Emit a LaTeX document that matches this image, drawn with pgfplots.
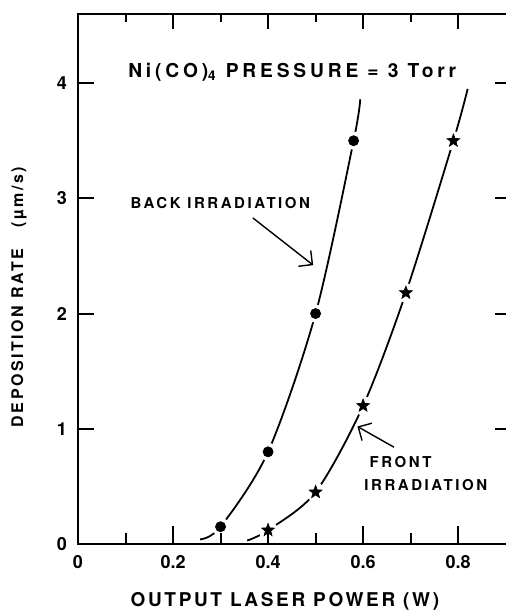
\documentclass[border=0pt]{standalone}
\usepackage{pgfplots}
\pgfplotsset{compat=1.18}
\usetikzlibrary{arrows.meta}
\usepackage{fontspec}
\setmainfont{TeX Gyre Heros}
\newfontfamily\spaced[LetterSpace=17]{TeX Gyre Heros}
\newfontfamily\spacedt[LetterSpace=20]{TeX Gyre Heros}
\newfontfamily\spacedx[LetterSpace=14]{TeX Gyre Heros}
\newfontfamily\spacedy[LetterSpace=16]{TeX Gyre Heros}
\pgfdeclareplotmark{fstar}{%
  \pgfpathmoveto{\pgfpointpolar{90}{\pgfplotmarksize}}%
  \pgfpathlineto{\pgfpointpolar{126}{0.42\pgfplotmarksize}}%
  \pgfpathlineto{\pgfpointpolar{162}{\pgfplotmarksize}}%
  \pgfpathlineto{\pgfpointpolar{198}{0.42\pgfplotmarksize}}%
  \pgfpathlineto{\pgfpointpolar{234}{\pgfplotmarksize}}%
  \pgfpathlineto{\pgfpointpolar{270}{0.42\pgfplotmarksize}}%
  \pgfpathlineto{\pgfpointpolar{306}{\pgfplotmarksize}}%
  \pgfpathlineto{\pgfpointpolar{342}{0.42\pgfplotmarksize}}%
  \pgfpathlineto{\pgfpointpolar{18}{\pgfplotmarksize}}%
  \pgfpathlineto{\pgfpointpolar{54}{0.42\pgfplotmarksize}}%
  \pgfpathclose
  \pgfusepathqfillstroke}
\begin{document}
\begin{tikzpicture}
\begin{axis}[
  scale only axis, width=215.5pt, height=265pt,
  xmin=0, xmax=0.907, ymin=0, ymax=4.6,
  axis line style={line width=1.3pt},
  xtick={0,0.2,0.4,0.6,0.8},
  ytick={0,1,2,3,4},
  major tick length=0pt, minor tick length=0pt,
  xticklabel style={font=\fontsize{9}{10}\selectfont\bfseries, yshift=-2pt},
  yticklabel style={font=\fontsize{9}{10}\selectfont\bfseries, xshift=-2pt},
  xticklabels={\textbf{0},\textbf{0.2},\textbf{0.4},\textbf{0.6},\textbf{0.8}},
  yticklabels={\textbf{0},\textbf{1},\textbf{2},\textbf{3},\textbf{4}},
  xlabel={\spacedx OUTPUT LASER POWER (W)},
  ylabel={\spacedy DEPOSITION RATE\ \ \ (µm/s)},
  xlabel style={font=\fontsize{9.5}{10}\selectfont\bfseries, at={(rel axis cs:0.48,0)}, anchor=center, yshift=-28.5pt},
  ylabel style={font=\fontsize{8}{10}\selectfont\bfseries, at={(rel axis cs:0,0.466)}, anchor=center, yshift=29.5pt},
]
% curves
\addplot[line width=0.9pt, smooth, tension=0.5] coordinates {
 (0.257,0.04) (0.3,0.15) (0.4,0.8) (0.5,2.0) (0.58,3.5) (0.594,3.86)};
\addplot[line width=0.9pt, smooth, tension=0.5] coordinates {
 (0.356,0.03) (0.4,0.12) (0.5,0.45) (0.6,1.2) (0.69,2.18) (0.79,3.5) (0.82,3.95)};
% white halos
\addplot[only marks, mark=*, mark size=4.3pt, draw=white, fill=white] coordinates {
 (0.3,0.15) (0.4,0.8) (0.5,2.0) (0.58,3.5)};
\addplot[only marks, mark=*, mark size=4.6pt, draw=white, fill=white] coordinates {
 (0.4,0.12) (0.5,0.45) (0.6,1.2) (0.69,2.18) (0.79,3.5)};
% marks
\addplot[only marks, mark=*, mark size=2.5pt, draw=black, fill=black] coordinates {
 (0.3,0.15) (0.4,0.8) (0.5,2.0) (0.58,3.5)};
\addplot[only marks, mark=fstar, mark size=3.4pt, draw=black, fill=black, mark options={line width=0.3pt}] coordinates {
 (0.4,0.12) (0.5,0.45) (0.6,1.2) (0.69,2.18) (0.79,3.5)};
% texts
\node[inner sep=0pt, anchor=base west, font=\fontsize{9.6}{11}\selectfont\bfseries\spacedt] at (axis cs:0.105,4.05) {Ni(CO)$_{\mathbf 4}$ PRESSURE = 3 Torr};
\node[inner sep=0pt, anchor=west, font=\fontsize{7.5}{9}\selectfont\bfseries\spaced] at (axis cs:0.11,2.96) {BACK IRRADIATION};
\draw[-{Straight Barb[length=5pt]}, line width=0.7pt] (axis cs:0.368,2.83) -- (axis cs:0.495,2.42);
\node[inner sep=0pt, anchor=west, font=\fontsize{7.5}{9}\selectfont\bfseries\spaced] at (axis cs:0.613,0.71) {FRONT};
\node[inner sep=0pt, anchor=west, font=\fontsize{7.5}{9}\selectfont\bfseries\spaced] at (axis cs:0.602,0.51) {IRRADIATION};
\draw[-{Straight Barb[length=5pt]}, line width=0.7pt] (axis cs:0.665,0.84) -- (axis cs:0.588,1.02);
\end{axis}
% tick marks (positions in pt: 237.6pt per 1 W, 57.61pt per 1 um/s)
\foreach \x in {23.76,71.28,118.80,166.32} {
  \draw[line width=1pt, black] ([xshift=\x pt]current axis.south west) -- ++(0,5.5pt);
  \draw[line width=1pt, black] ([xshift=\x pt]current axis.north west) -- ++(0,-4pt);
}
\foreach \x in {47.52,95.04,142.56,190.08} {
  \draw[line width=1pt, black] ([xshift=\x pt]current axis.south west) -- ++(0,9pt);
  \draw[line width=1pt, black] ([xshift=\x pt]current axis.north west) -- ++(0,-7.5pt);
}
\foreach \y in {57.61,115.22,172.83,230.43} {
  \draw[line width=1pt, black] ([yshift=\y pt]current axis.south west) -- ++(8pt,0);
  \draw[line width=1pt, black] ([yshift=\y pt]current axis.south east) -- ++(-7pt,0);
}
\pgfresetboundingbox
\path ([shift={(-39pt,-33pt)}]current axis.south west) rectangle ([shift={(-1.5pt,7pt)}]current axis.north east);
\end{tikzpicture}
\end{document}
